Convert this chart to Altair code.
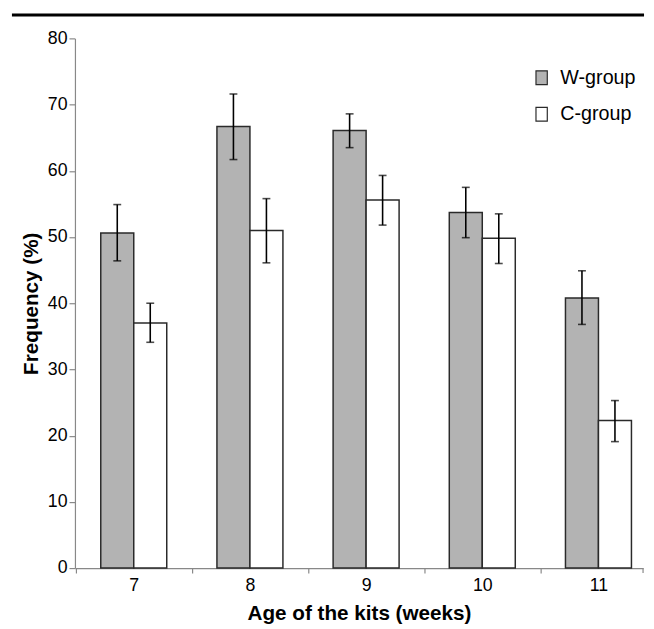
import altair as alt
import pandas as pd

weeks = ["7", "8", "9", "10", "11"]
groups = ["W-group", "C-group"]
w_mean = [50.6, 66.7, 66.1, 53.7, 40.8]
w_low = [46.4, 61.7, 63.5, 49.9, 36.8]
w_high = [54.9, 71.6, 68.6, 57.5, 44.9]
c_mean = [37.0, 51.0, 55.6, 49.8, 22.3]
c_low = [34.1, 46.1, 51.8, 46.0, 19.1]
c_high = [40.0, 55.8, 59.3, 53.5, 25.3]

rows = []
for i, wk in enumerate(weeks):
    rows.append({"week": wk, "group": "W-group", "value": w_mean[i], "low": w_low[i], "high": w_high[i]})
    rows.append({"week": wk, "group": "C-group", "value": c_mean[i], "low": c_low[i], "high": c_high[i]})
df = pd.DataFrame(rows)

FONT = "Liberation Sans"
W, H = 577, 538

x_enc = alt.X(
    "week:N", sort=weeks,
    scale=alt.Scale(paddingInner=0.432, paddingOuter=0.161, align=0.69),
    axis=alt.Axis(title="Age of the kits (weeks)", labelAngle=0, tickBand="center",
                  tickOffset=-59, labelOffset=59,
                  tickSize=5, labelPadding=4, titlePadding=8),
)
xo_enc = alt.XOffset("group:N", sort=groups, scale=alt.Scale(paddingInner=0, paddingOuter=0))
y_enc = alt.Y(
    "value:Q", scale=alt.Scale(domain=[0, 80]),
    axis=alt.Axis(title="Frequency (%)", values=list(range(0, 81, 10)), grid=False,
                  tickSize=6, labelPadding=2, titlePadding=6),
)

base = alt.Chart(df)

bars = base.mark_bar(stroke="#2a2a2a", strokeWidth=1.5).encode(
    x=x_enc, xOffset=xo_enc, y=y_enc,
    fill=alt.Fill(
        "group:N", sort=groups,
        scale=alt.Scale(domain=groups, range=["#b3b3b3", "#ffffff"]),
        legend=alt.Legend(
            title=None, orient="none", legendX=464, legendY=30,
            symbolType="M-0.82,-1H0.82V1H-0.82Z", symbolSize=196,
            symbolStrokeColor="#2a2a2a", symbolStrokeWidth=1.2,
            labelFontSize=20, labelOffset=9, rowPadding=17, clipHeight=20,
            padding=0, labelColor="black",
        ),
    ),
)

err = base.mark_rule(color="black", strokeWidth=1.6).encode(
    x=x_enc, xOffset=xo_enc, y="low:Q", y2="high:Q"
)
cap_lo = base.mark_tick(color="black", thickness=1.6, size=8).encode(
    x=x_enc, xOffset=xo_enc, y="low:Q"
)
cap_hi = base.mark_tick(color="black", thickness=1.6, size=8).encode(
    x=x_enc, xOffset=xo_enc, y="high:Q"
)

deco = pd.DataFrame({"d": [0]})
top_line = alt.Chart(deco).mark_rule(color="black", strokeWidth=3).encode(
    x=alt.value(-64), x2=alt.value(578), y=alt.value(-23.8)
)
end_tick = alt.Chart(deco).mark_rule(color="#888888", strokeWidth=1.2).encode(
    x=alt.value(W), y=alt.value(H), y2=alt.value(H + 5)
)

chart = alt.layer(bars, err, cap_lo, cap_hi, top_line, end_tick).properties(
    width=W, height=H,
    padding={"left": 2, "top": 0, "right": 0, "bottom": 0},
).configure(
    font=FONT,
).configure_view(
    stroke=None
).configure_axis(
    domainColor="#888888", tickColor="#888888", domainWidth=1.2, tickWidth=1.2,
    labelColor="black", labelFontSize=18, labelFont=FONT,
    titleColor="black", titleFontSize=21, titleFontWeight="bold", titleFont=FONT,
).configure_legend(
    labelFont=FONT
)

chart.save("out.html", embed_options={"renderer": "svg", "actions": False})
